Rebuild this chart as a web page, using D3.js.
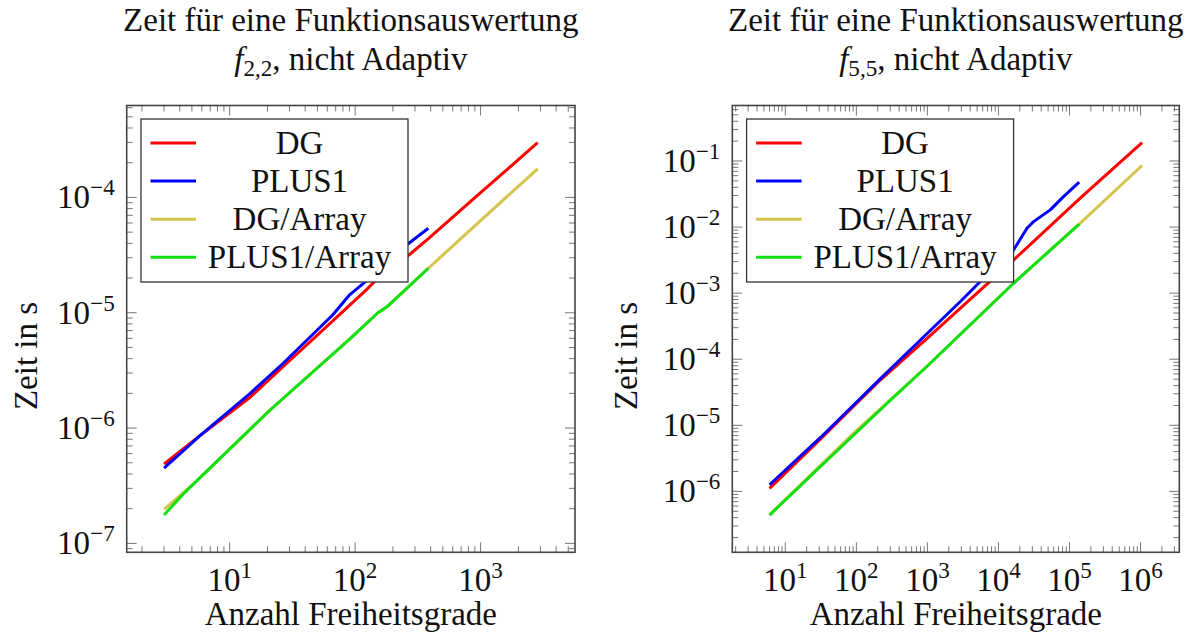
<!DOCTYPE html>
<html>
<head>
<meta charset="utf-8">
<script src="https://cdn.jsdelivr.net/npm/d3@7"></script>
<style>
  html, body { margin: 0; padding: 0; background: #fff; }
  #stage { width: 1194px; height: 633px; }
</style>
</head>
<body>
<div id="stage"></div>
<script>
// series names and colours (legend order = draw order)
const seriesNames = ["DG", "PLUS1", "DG/Array", "PLUS1/Array"];
const seriesColors = ["#ff0000", "#0000ff", "#d4c44c", "#0fe00f"];

// f_{2,2}: Anzahl Freiheitsgrade / Zeit in s
const dofL_DG = [3, 5.8, 14.5, 26.6, 55.5, 122.7, 166.7, 271.6, 383.7, 1000, 2850];
const timeL_DG = [4.88e-7, 8.6e-7, 1.84e-6, 3.4e-6, 7.1e-6, 1.58e-5, 2.2e-5, 3.2e-5, 4.39e-5, 1.1e-4, 2.98e-4];
const dofL_PLUS1 = [3, 5.8, 14.5, 26.6, 66.5, 90.4, 130.6, 271.6, 383.7];
const timeL_PLUS1 = [4.5e-7, 8.6e-7, 1.99e-6, 3.63e-6, 9.6e-6, 1.43e-5, 2.0e-5, 4.05e-5, 5.4e-5];
const dofL_DGArr = [3, 5.1, 20.8, 90.4, 152, 170, 188.4, 383.7, 1000, 2850];
const timeL_DGArr = [1.97e-7, 3.24e-7, 1.42e-6, 5.9e-6, 1.0e-5, 1.08e-5, 1.18e-5, 2.43e-5, 6.3e-5, 1.77e-4];
const dofL_PLUS1Arr = [3, 4.25, 20.8, 90.4, 152, 170, 188.4, 383.7];
const timeL_PLUS1Arr = [1.76e-7, 2.67e-7, 1.42e-6, 5.9e-6, 1.0e-5, 1.08e-5, 1.18e-5, 2.43e-5];

// f_{5,5}
const dofR_DG = [6, 31.6, 215, 1000, 2890, 16300, 141600, 1.05e6];
const timeR_DG = [1.11e-6, 6.3e-6, 4.8e-5, 2.09e-4, 5.86e-4, 3.17e-3, 2.74e-2, 0.189];
const dofR_PLUS1 = [6, 31.6, 215, 1000, 2890, 5520, 16300, 25200, 31200, 53600, 82400, 137000];
const timeR_PLUS1 = [1.26e-6, 6.6e-6, 5.0e-5, 2.47e-4, 7.4e-4, 1.49e-3, 4.5e-3, 9.6e-3, 1.21e-2, 1.82e-2, 2.89e-2, 4.8e-2];
const dofR_DGArr = [6, 31.6, 100, 317, 1000, 16300, 137000, 1.05e6];
const timeR_DGArr = [4.4e-7, 2.5e-6, 8.3e-6, 2.55e-5, 7.9e-5, 1.41e-3, 1.11e-2, 8.55e-2];
const dofR_PLUS1Arr = [6, 31.6, 317, 1000, 16300, 137000];
const timeR_PLUS1Arr = [4.38e-7, 2.4e-6, 2.52e-5, 7.9e-5, 1.41e-3, 1.11e-2];

const width = 1194;
const height = 633;
const font = "'Liberation Serif', 'Times New Roman', serif";
const fs = 33;

const svg = d3.select("#stage")
  .append("svg")
  .attr("width", width)
  .attr("height", height)
  .attr("viewBox", `0 0 ${width} ${height}`);

const panels = [
  {
    x0: 126.7, x1: 575, sub: "2,2",
    series: [[dofL_DG, timeL_DG], [dofL_PLUS1, timeL_PLUS1], [dofL_DGArr, timeL_DGArr], [dofL_PLUS1Arr, timeL_PLUS1Arr]],
    ylabelX: 36.5
  },
  {
    x0: 732.3, x1: 1179.3, sub: "5,5",
    series: [[dofR_DG, timeR_DG], [dofR_PLUS1, timeR_PLUS1], [dofR_DGArr, timeR_DGArr], [dofR_PLUS1Arr, timeR_PLUS1Arr]],
    ylabelX: 637
  }
];

const y0 = 105.5;
const y1 = 552.3;
const superscript = (sel, base, exp) => {
  sel.append("tspan").text(base);
  sel.append("tspan").attr("font-size", fs * 0.7).attr("dy", -13).text(exp);
};

// like pgfplots: enlarge log limits by 10%
function enlargedDomain(values) {
  const lo = Math.log10(d3.min(values));
  const hi = Math.log10(d3.max(values));
  const pad = (hi - lo) * 0.1;
  return [Math.pow(10, lo - pad), Math.pow(10, hi + pad)];
}

panels.forEach(p => {
  const g = svg.append("g");
  const allX = p.series.flatMap(s => s[0]);
  const allY = p.series.flatMap(s => s[1]);
  const x = d3.scaleLog().domain(enlargedDomain(allX)).range([p.x0, p.x1]);
  const y = d3.scaleLog().domain(enlargedDomain(allY)).range([y1, y0]);
  const isMajor = v => Math.abs(Math.log10(v) - Math.round(Math.log10(v))) < 1e-9;

  // ticks on all four sides, pointing inward
  const xt = x.ticks();
  const yt = y.ticks();
  const tickLen = v => (isMajor(v) ? 10 : 6);
  const ticks = g.append("g").attr("stroke", "#777").attr("stroke-width", 1);
  xt.forEach(v => {
    ticks.append("line").attr("x1", x(v)).attr("x2", x(v)).attr("y1", y1).attr("y2", y1 - tickLen(v));
    ticks.append("line").attr("x1", x(v)).attr("x2", x(v)).attr("y1", y0).attr("y2", y0 + tickLen(v));
  });
  yt.forEach(v => {
    ticks.append("line").attr("y1", y(v)).attr("y2", y(v)).attr("x1", p.x0).attr("x2", p.x0 + tickLen(v));
    ticks.append("line").attr("y1", y(v)).attr("y2", y(v)).attr("x1", p.x1).attr("x2", p.x1 - tickLen(v));
  });

  // tick labels
  xt.filter(isMajor).forEach(v => {
    const t = g.append("text")
      .attr("x", x(v)).attr("y", 590.7)
      .attr("text-anchor", "middle")
      .attr("font-family", font).attr("font-size", fs).attr("fill", "#111");
    superscript(t, "10", String(Math.round(Math.log10(v))));
  });
  yt.filter(isMajor).forEach(v => {
    const t = g.append("text")
      .attr("x", p.x0 - 12).attr("y", y(v) + 11)
      .attr("text-anchor", "end")
      .attr("font-family", font).attr("font-size", fs).attr("fill", "#111");
    superscript(t, "10", "\u2212" + Math.abs(Math.round(Math.log10(v))));
  });

  // data lines
  const line = d3.line().x(d => x(d[0])).y(d => y(d[1]));
  p.series.forEach((s, i) => {
    g.append("path")
      .datum(d3.zip(s[0], s[1]))
      .attr("d", line)
      .attr("fill", "none")
      .attr("stroke", seriesColors[i])
      .attr("stroke-width", 3)
      .attr("stroke-linejoin", "round");
  });

  // frame
  g.append("rect")
    .attr("x", p.x0).attr("y", y0)
    .attr("width", p.x1 - p.x0).attr("height", y1 - y0)
    .attr("fill", "none").attr("stroke", "#444").attr("stroke-width", 1.6);

  // legend
  const lx = p.x0 + 14.3;
  const ly = 119;
  g.append("rect")
    .attr("x", lx).attr("y", ly).attr("width", 267).attr("height", 163)
    .attr("fill", "#fff").attr("stroke", "#333").attr("stroke-width", 1.3);
  seriesNames.forEach((name, i) => {
    const ry = 143 + i * 38.1;
    g.append("line")
      .attr("x1", lx + 9.5).attr("x2", lx + 55).attr("y1", ry).attr("y2", ry)
      .attr("stroke", seriesColors[i]).attr("stroke-width", 3);
    g.append("text")
      .attr("x", lx + 158.5).attr("y", ry + 11)
      .attr("text-anchor", "middle")
      .attr("font-family", font).attr("font-size", fs).attr("fill", "#111")
      .text(name);
  });

  // titles and axis labels
  const cx = (p.x0 + p.x1) / 2;
  g.append("text")
    .attr("x", cx).attr("y", 31)
    .attr("text-anchor", "middle")
    .attr("font-family", font).attr("font-size", fs).attr("fill", "#111")
    .text("Zeit für eine Funktionsauswertung");
  const t2 = g.append("text")
    .attr("x", cx).attr("y", 70)
    .attr("text-anchor", "middle")
    .attr("font-family", font).attr("font-size", fs).attr("fill", "#111");
  t2.append("tspan").attr("font-style", "italic").text("f");
  t2.append("tspan").attr("font-size", fs * 0.7).attr("dy", 6).text(p.sub);
  t2.append("tspan").attr("dy", -6).text(", nicht Adaptiv");

  g.append("text")
    .attr("x", cx).attr("y", 625)
    .attr("text-anchor", "middle")
    .attr("font-family", font).attr("font-size", fs).attr("fill", "#111")
    .text("Anzahl Freiheitsgrade");
  g.append("text")
    .attr("transform", `translate(${p.ylabelX},356) rotate(-90)`)
    .attr("text-anchor", "middle")
    .attr("font-family", font).attr("font-size", fs).attr("fill", "#111")
    .text("Zeit in s");
});
</script>
</body>
</html>
